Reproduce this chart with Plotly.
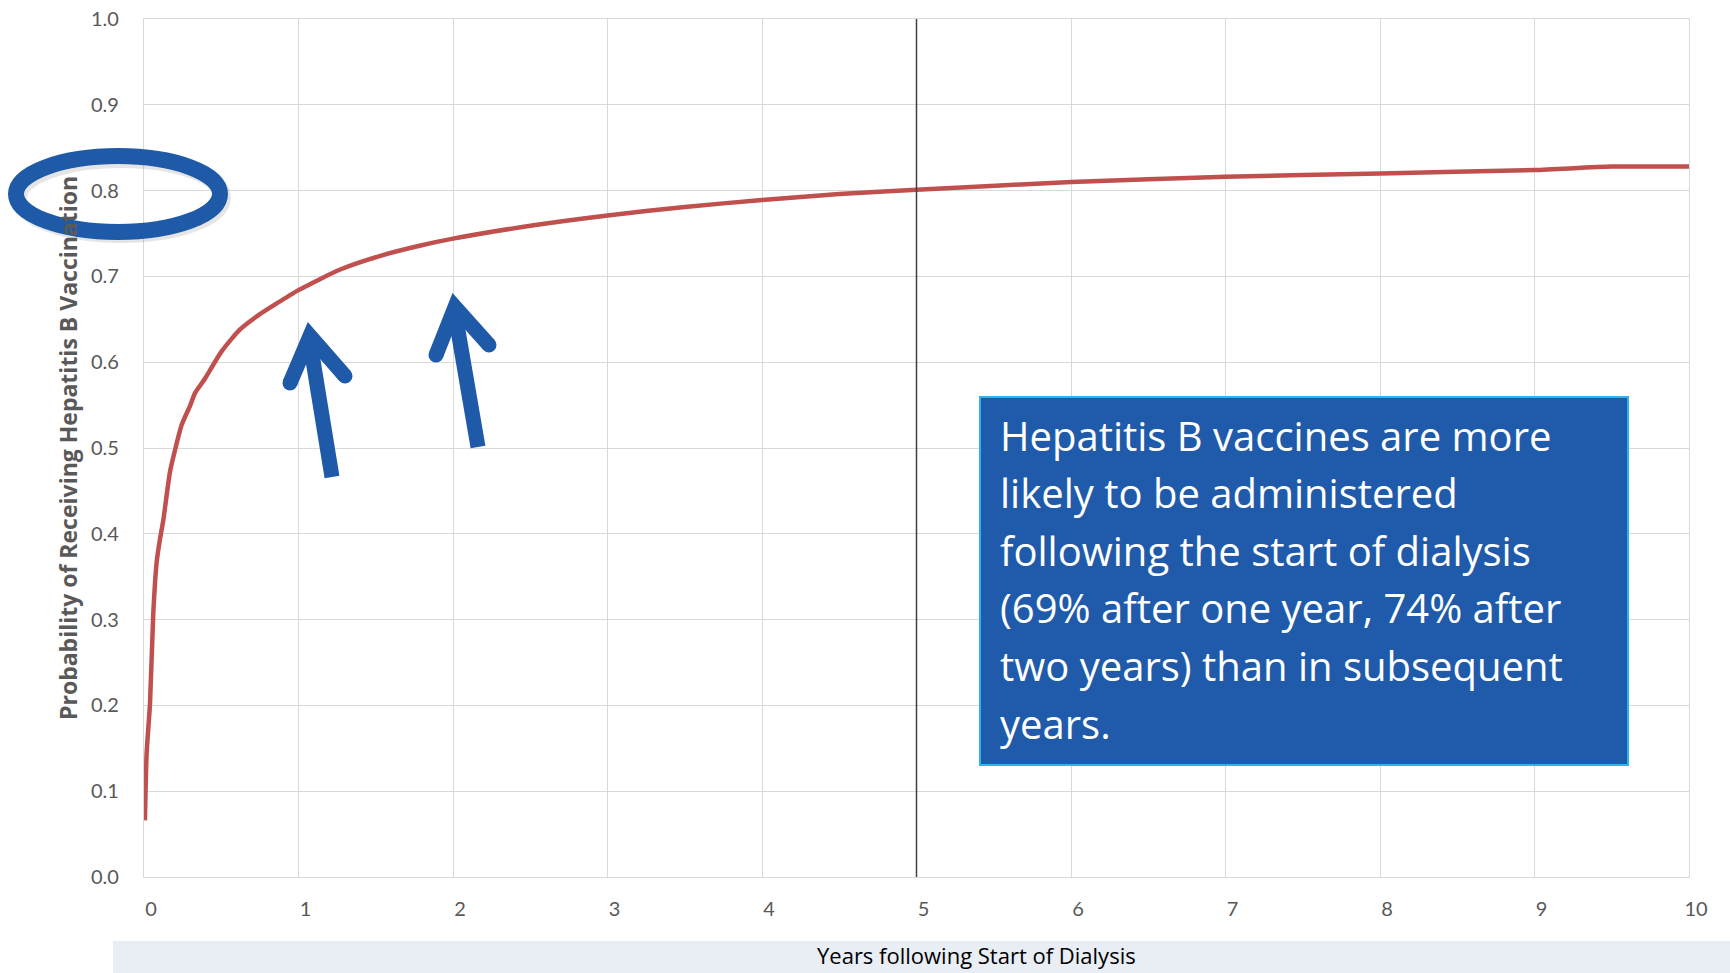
import plotly.graph_objects as go

# ---------------- data ----------------
years = [0.006, 0.017, 0.039, 0.06, 0.082, 0.1, 0.125, 0.168, 0.2, 0.244, 0.3, 0.33,
         0.395, 0.5, 0.62, 0.75, 0.837, 1.0, 1.27, 1.53, 1.79, 2.0, 2.5, 3.0, 3.5,
         4.0, 4.5, 5.0, 6.0, 7.0, 8.0, 9.0, 9.5, 10.0]
probability = [0.066, 0.144, 0.203, 0.307, 0.367, 0.39, 0.416, 0.472, 0.497, 0.527,
               0.55, 0.564, 0.581, 0.612, 0.638, 0.656, 0.666, 0.684, 0.708, 0.724,
               0.736, 0.744, 0.759, 0.771, 0.781, 0.789, 0.796, 0.801, 0.810, 0.816,
               0.820, 0.824, 0.828, 0.828]
x_ticks = [0, 1, 2, 3, 4, 5, 6, 7, 8, 9, 10]
y_ticks = [0.0, 0.1, 0.2, 0.3, 0.4, 0.5, 0.6, 0.7, 0.8, 0.9, 1.0]
y_tick_labels = ["0.0", "0.1", "0.2", "0.3", "0.4", "0.5", "0.6", "0.7", "0.8", "0.9", "1.0"]
marker_year = 5
x_title = "Years following Start of Dialysis"
y_title = "Probability of Receiving Hepatitis B Vaccination"
box_lines = [
    "Hepatitis B vaccines are more",
    "likely to be administered",
    "following the start of dialysis",
    "(69% after one year, 74% after",
    "two years) than in subsequent",
    "years.",
]

# ---------------- layout geometry ----------------
W, H = 1730, 973
L, R, T, B = 144, 41, 19, 96
PW, PH = W - L - R, H - T - B


def px(xp):
    return (xp - L) / PW


def py(yp):
    return (H - B - yp) / PH


BLUE = "#1F5AA8"
FONT = "Open Sans"
TICKFONT = "Lato"

fig = go.Figure()
fig.add_trace(go.Scatter(
    x=years, y=probability, mode="lines",
    line=dict(color="#C0504D", width=4.5, shape="spline", smoothing=0.6),
    hoverinfo="skip", showlegend=False,
))

shapes = []
# x-axis title band
shapes.append(dict(type="rect", xref="paper", yref="paper",
                   x0=px(113), x1=px(W), y0=py(H), y1=py(941),
                   fillcolor="#E9EDF4", line=dict(width=0), layer="below"))
# vertical line at 5 years
shapes.append(dict(type="line", xref="x", yref="paper", x0=marker_year, x1=marker_year,
                   y0=0, y1=1, line=dict(color="#404040", width=1.5)))
# ellipse shadow + ellipse
shapes.append(dict(type="circle", xref="paper", yref="paper",
                   x0=px(19), x1=px(223), y0=py(235), y1=py(160),
                   line=dict(color="rgba(0,0,0,0.10)", width=16)))
shapes.append(dict(type="circle", xref="paper", yref="paper",
                   x0=px(16), x1=px(220), y0=py(232), y1=py(156),
                   line=dict(color=BLUE, width=16)))


def arrow(tail, vertex, wl, wr):
    out = []
    out.append(dict(type="path", xref="paper", yref="paper",
                    path=f"M {px(tail[0])},{py(tail[1])} L {px(vertex[0])},{py(vertex[1]+6)}",
                    line=dict(color=BLUE, width=15)))
    out.append(dict(type="path", xref="paper", yref="paper",
                    path=(f"M {px(wl[0])},{py(wl[1])} L {px(vertex[0])},{py(vertex[1])} "
                          f"L {px(wr[0])},{py(wr[1])}"),
                    line=dict(color=BLUE, width=15)))
    for (cx, cy) in (wl, wr):
        out.append(dict(type="circle", xref="paper", yref="paper",
                        x0=px(cx - 7.5), x1=px(cx + 7.5), y0=py(cy + 7.5), y1=py(cy - 7.5),
                        fillcolor=BLUE, line=dict(width=0)))
    return out


shapes += arrow((332, 477), (310, 336), (290, 383), (345, 376))
shapes += arrow((478, 447), (455, 307), (436, 355), (489, 345))

# text box
shapes.append(dict(type="rect", xref="paper", yref="paper",
                   x0=px(980), x1=px(1628), y0=py(765), y1=py(397),
                   fillcolor="#1F5BAA", line=dict(color="#2EB4EC", width=2)))

annotations = []
for i, line in enumerate(box_lines):
    annotations.append(dict(
        text=line, xref="paper", yref="paper", x=px(998), y=py(435 + i * 57.6),
        xanchor="left", yanchor="middle", showarrow=False,
        font=dict(family=FONT, size=40, color="white")))
annotations.append(dict(
    text=x_title, xref="paper", yref="paper", x=px(976), y=py(955),
    xanchor="center", yanchor="middle", showarrow=False,
    font=dict(family=FONT, size=22, color="#000000")))
annotations.append(dict(
    text=f"<b>{y_title}</b>", xref="paper", yref="paper", x=px(68), y=0.5,
    xanchor="center", yanchor="middle", textangle=-90, showarrow=False,
    font=dict(family=FONT, size=23, color="#595959")))

fig.update_layout(
    width=W, height=H,
    margin=dict(l=L, r=R, t=T, b=B, autoexpand=False),
    paper_bgcolor="white", plot_bgcolor="white",
    shapes=shapes, annotations=annotations,
    font=dict(family=FONT, color="#595959", size=20),
    xaxis=dict(range=[0, 10], tickvals=x_ticks, showgrid=True, gridcolor="#D9D9D9",
               gridwidth=1.3, zeroline=False, showline=True, linecolor="#D9D9D9",
               linewidth=1.3, mirror=True, ticks="", ticklabelstandoff=14,
               ticklabelshift=7, tickfont=dict(family=TICKFONT, size=20, color="#595959")),
    yaxis=dict(range=[0, 1], tickvals=y_ticks, ticktext=y_tick_labels, showgrid=True,
               gridcolor="#D9D9D9", gridwidth=1.3, zeroline=False, showline=True,
               linecolor="#D9D9D9", linewidth=1.3, mirror=True, ticks="",
               ticklabelstandoff=20, tickfont=dict(family=TICKFONT, size=20, color="#595959")),
)

fig.write_html("out.html")
